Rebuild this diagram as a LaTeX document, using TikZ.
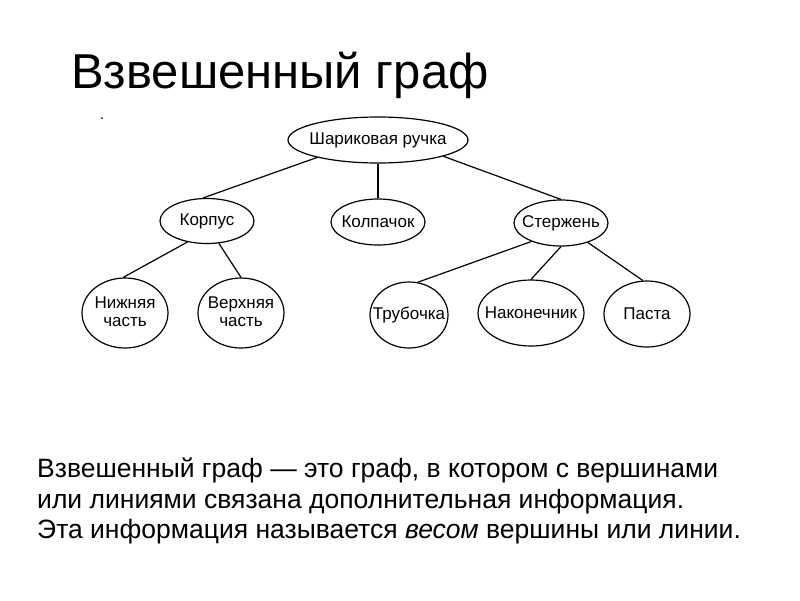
\documentclass[tikz,border=0pt]{standalone}
\usepackage{fontspec}
\setmainfont{Liberation Sans}
\usetikzlibrary{shapes.geometric}
\newcommand\zbox[1]{\makebox[0pt]{#1}}
\newcommand\ztwo[2]{\makebox[0pt]{\begin{tabular}{@{}c@{}}#1\\[-2pt]#2\end{tabular}}}
\begin{document}
\begin{tikzpicture}[x=1pt,y=-1pt,
  vert/.style={draw=black, line width=1.2pt, ellipse, inner sep=0pt,
     font=\fontsize{17}{20}\selectfont},
  edge/.style={draw=black, line width=1.2pt},
  title/.style={anchor=base west, inner sep=0pt, font=\fontsize{49}{55}\selectfont},
  body/.style={anchor=base west, inner sep=0pt, font=\fontsize{26.5}{31}\selectfont}]
\useasboundingbox[fill=white] (0,0) rectangle (800,600);
\node[title] (t) at (71,88) {Взвешенный граф};
\fill (102,118) circle (1);
% nodes
\node[vert, minimum width=180pt, minimum height=46pt] (root) at (378,140) {\zbox{Шариковая ручка}};
\node[vert, minimum width=94pt, minimum height=45pt] (korp) at (207,221) {\zbox{Корпус}};
\node[vert, minimum width=94pt, minimum height=46pt] (kolp) at (378,222) {\zbox{Колпачок}};
\node[vert, minimum width=94pt, minimum height=46pt] (ster) at (561,223) {\zbox{Стержень}};
\node[vert, minimum width=86pt, minimum height=70pt] (niz) at (125,313) {\ztwo{Нижняя}{часть}};
\node[vert, minimum width=86pt, minimum height=70pt] (ver) at (241,313) {\ztwo{Верхняя}{часть}};
\node[vert, minimum width=78pt, minimum height=66pt] (trub) at (409,315) {\zbox{Трубочка}};
\node[vert, minimum width=106pt, minimum height=66pt] (nak) at (531,313) {\zbox{Наконечник}};
\node[vert, minimum width=86pt, minimum height=66pt] (pas) at (647,314) {\zbox{Паста}};
% edges
\draw[edge] (root.196) -- (korp.100);
\draw[edge] (root.south) -- (kolp.north);
\draw[edge] (root.-14) -- (ster.north);
\draw[edge] (korp.-133) -- (niz.93);
\draw[edge] (korp.-62) -- (ver.north);
\draw[edge] (ster.-148) -- (trub.75);
\draw[edge] (ster.south) -- (nak.north);
\draw[edge] (ster.-36) -- (pas.97);
% text
\node[body] (l1) at (37,477) {Взвешенный граф — это граф, в котором с вершинами};
\node[body] (l2) at (37,508) {или линиями связана дополнительная информация.};
\node[body] (l3) at (37,538) {Эта информация называется \textit{весом} вершины или линии.};
\end{tikzpicture}
\end{document}
